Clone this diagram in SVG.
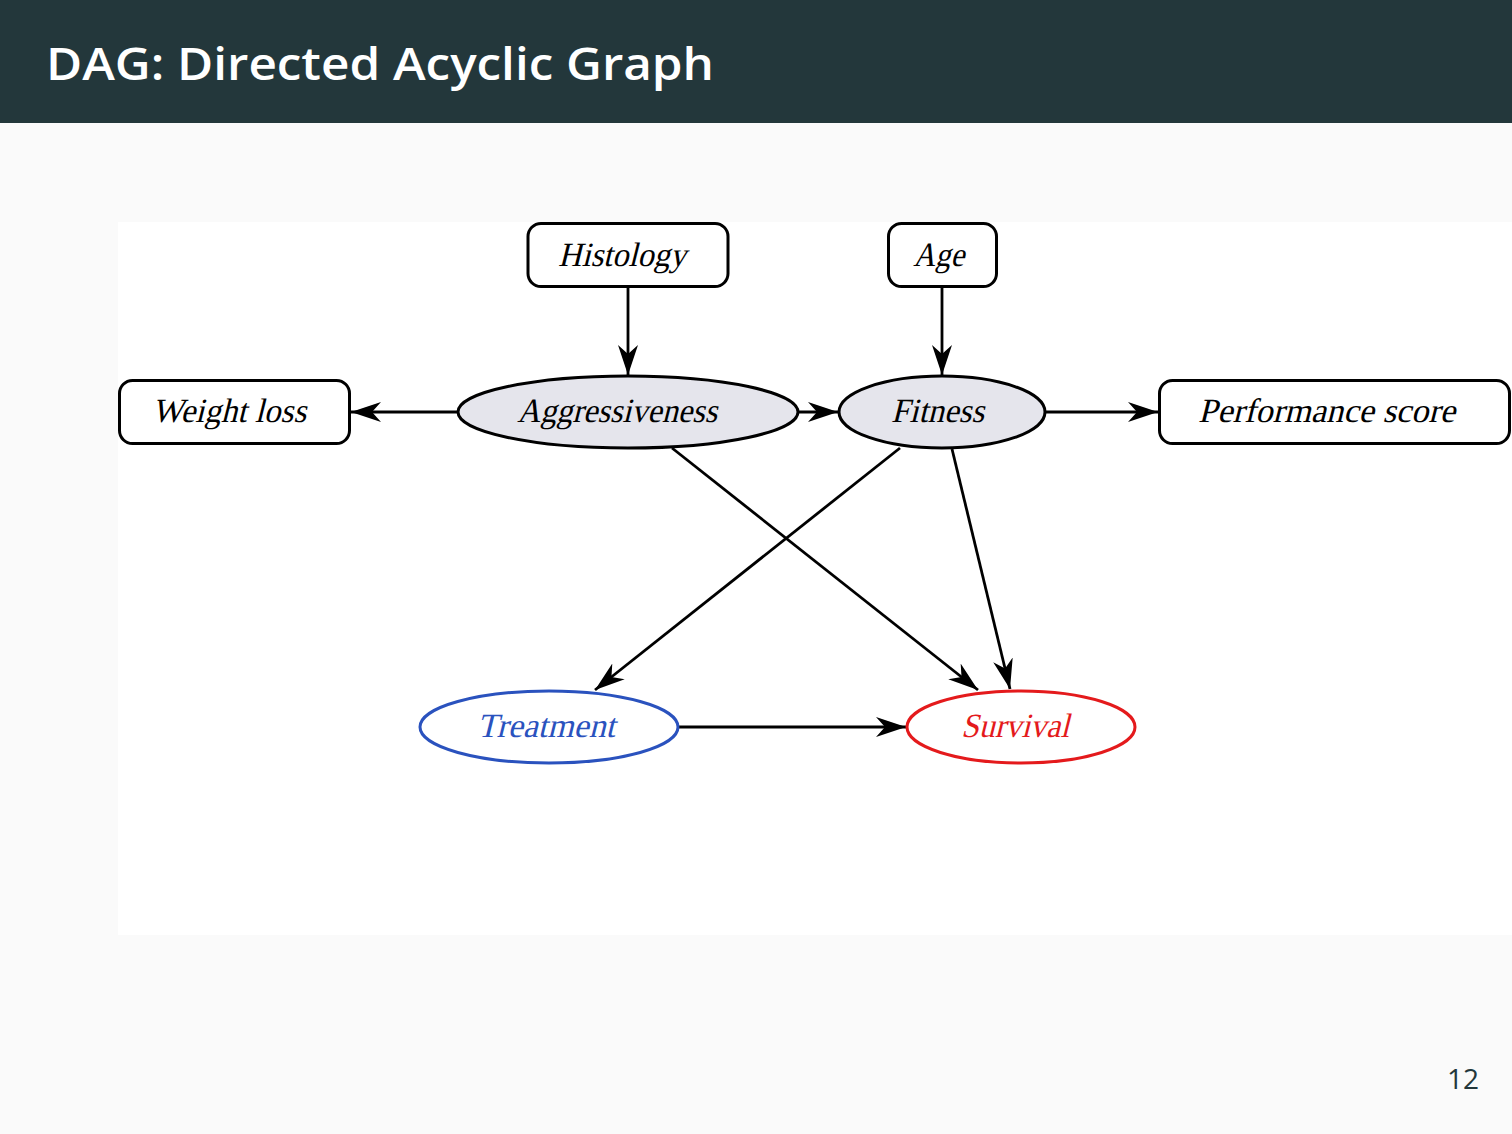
<svg xmlns="http://www.w3.org/2000/svg" width="1512" height="1134" viewBox="0 0 1512 1134">
<defs>
<style>
.box{fill:#fff;stroke:#000;stroke-width:3}
.ell{fill:#e5e5ec;stroke:#000;stroke-width:3}
.lbl{font-family:"Liberation Serif","Times New Roman",serif;font-style:normal;font-size:34px;text-anchor:middle;fill:#000}
.edge{stroke:#000;stroke-width:2.8;fill:none;marker-end:url(#ah)}
</style>
<marker id="ah" markerUnits="userSpaceOnUse" viewBox="-30 -11 32 22" refX="0" refY="0" markerWidth="32" markerHeight="22" orient="auto">
<path d="M0,0 L-30,-10 L-21,0 L-30,10 Z" fill="#000"/>
</marker>
</defs>
<rect width="1512" height="1134" fill="#fafafa"/>
<rect width="1512" height="123" fill="#23373b"/>
<text x="46" y="80" font-family="'Open Sans',sans-serif" font-weight="600" font-size="46" fill="#fff" textLength="668" lengthAdjust="spacingAndGlyphs">DAG: Directed Acyclic Graph</text>
<rect x="118" y="222" width="1394" height="713" fill="#fff"/>
<g id="edges">
<line class="edge" x1="628" y1="287" x2="628" y2="375"/>
<line class="edge" x1="942" y1="287" x2="942" y2="375"/>
<line class="edge" x1="458" y1="412" x2="351" y2="412"/>
<line class="edge" x1="798" y1="412" x2="838" y2="412"/>
<line class="edge" x1="1045" y1="412" x2="1158" y2="412"/>
<line class="edge" x1="672" y1="448" x2="978" y2="690"/>
<line class="edge" x1="900" y1="448" x2="595" y2="690"/>
<line class="edge" x1="952" y1="449" x2="1010" y2="689"/>
<line class="edge" x1="678" y1="727" x2="906" y2="727"/>
</g>
<g id="histology"><rect class="box" x="528" y="223.5" width="200" height="63" rx="13"/><text class="lbl" transform="translate(622,266) skewX(-14)" textLength="128" lengthAdjust="spacingAndGlyphs">Histology</text></g>
<g id="age"><rect class="box" x="888.5" y="223.5" width="108" height="63" rx="13"/><text class="lbl" transform="translate(938.5,266) skewX(-14)" textLength="51" lengthAdjust="spacingAndGlyphs">Age</text></g>
<g id="weightloss"><rect class="box" x="119.5" y="380.5" width="230" height="63" rx="13"/><text class="lbl" transform="translate(229,422) skewX(-14)" textLength="154" lengthAdjust="spacingAndGlyphs">Weight loss</text></g>
<g id="performance"><rect class="box" x="1159.5" y="380.5" width="350" height="63" rx="13"/><text class="lbl" transform="translate(1326.5,422) skewX(-14)" textLength="257" lengthAdjust="spacingAndGlyphs">Performance score</text></g>
<g id="aggressiveness"><ellipse class="ell" cx="628" cy="412" rx="170" ry="36"/><text class="lbl" transform="translate(617,422) skewX(-14)" textLength="200" lengthAdjust="spacingAndGlyphs">Aggressiveness</text></g>
<g id="fitness"><ellipse class="ell" cx="942" cy="412" rx="103" ry="36"/><text class="lbl" transform="translate(937.5,422) skewX(-14)" textLength="93" lengthAdjust="spacingAndGlyphs">Fitness</text></g>
<g id="treatment"><ellipse cx="549" cy="727" rx="129" ry="36" fill="#fff" stroke="#2a52be" stroke-width="3"/><text class="lbl" transform="translate(546,737) skewX(-14)" textLength="138" lengthAdjust="spacingAndGlyphs" style="fill:#2a52be">Treatment</text></g>
<g id="survival"><ellipse cx="1021" cy="727" rx="114" ry="36" fill="#fff" stroke="#e41a1c" stroke-width="3"/><text class="lbl" transform="translate(1015,737) skewX(-14)" textLength="108" lengthAdjust="spacingAndGlyphs" style="fill:#e41a1c">Survival</text></g>
<text x="1479" y="1089" font-family="'Open Sans',sans-serif" font-size="28" fill="#23373b" text-anchor="end">12</text>
</svg>
